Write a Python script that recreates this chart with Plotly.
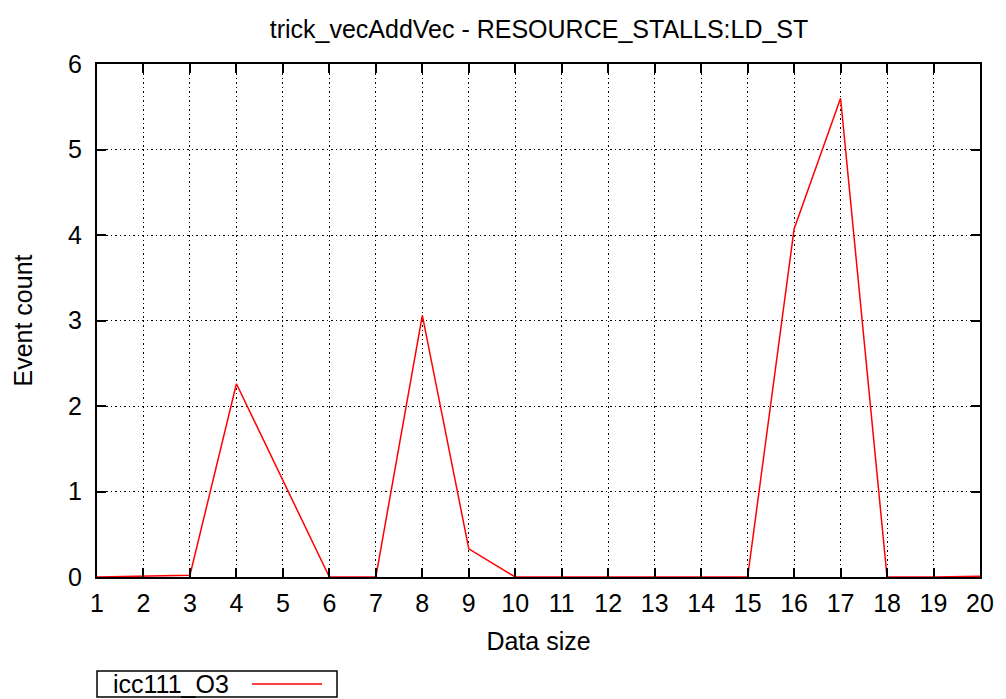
import plotly.graph_objects as go

data_size = list(range(1, 21))
event_count = [0.0, 0.01, 0.02, 2.26, 1.12, 0.0, 0.0, 3.06, 0.33, 0.0,
               0.0, 0.0, 0.0, 0.0, 0.0, 4.07, 5.6, 0.0, 0.0, 0.01]
series_name = "icc111_O3"
title_text = "trick_vecAddVec - RESOURCE_STALLS:LD_ST"

FONT = "Liberation Sans, Arial, Helvetica, sans-serif"
FS = 25

# the page body has an 8px margin; work in window pixels and shift
OFF = 8
WIN_W, WIN_H = 1006, 699
W, H = WIN_W - OFF, WIN_H - OFF
L, R, T, B = 97 - OFF, 980 - OFF, 64 - OFF, 577 - OFF


def px(x):
    return (x - OFF - L) / (R - L)


def py(y):
    return (B - (y - OFF)) / (B - T)


fig = go.Figure()
fig.add_trace(go.Scatter(x=data_size, y=event_count, mode="lines",
                         line=dict(color="#ff0000", width=1.5),
                         name=series_name, showlegend=False))

axis_common = dict(
    showline=True, linecolor="black", linewidth=2, mirror="ticks",
    ticks="inside", ticklen=9, tickwidth=2, tickcolor="black",
    showgrid=True, gridcolor="black", gridwidth=1, griddash="1.5px,3px",
    zeroline=False, tickfont=dict(family=FONT, size=FS, color="black"),
)

fig.update_xaxes(range=[1, 20], dtick=1, tick0=1, ticklabelstandoff=3,
                 title=dict(text="Data size", font=dict(family=FONT, size=FS, color="black"), standoff=16),
                 **axis_common)
fig.update_yaxes(range=[0, 6], dtick=1, ticklabelstandoff=8,
                 title=dict(text="Event count", font=dict(family=FONT, size=FS, color="black"), standoff=28),
                 **axis_common)

fig.add_shape(type="rect", xref="paper", yref="paper",
              x0=px(97), x1=px(337), y0=py(697), y1=py(671),
              line=dict(color="black", width=1.5), fillcolor="white")
fig.add_shape(type="line", xref="paper", yref="paper",
              x0=px(252), x1=px(322), y0=py(684), y1=py(684),
              line=dict(color="#ff0000", width=1.5))
fig.add_annotation(xref="paper", yref="paper", x=px(111), y=py(684),
                   text=series_name, showarrow=False, xanchor="left", yanchor="middle",
                   font=dict(family=FONT, size=FS, color="black"))

fig.update_layout(
    width=W, height=H,
    margin=dict(l=L, r=W - R, t=T, b=H - B),
    paper_bgcolor="white", plot_bgcolor="white",
    title=dict(text=title_text, x=px(539), xref="paper", xanchor="center",
               y=1 - (29 - OFF) / H, yanchor="middle",
               font=dict(family=FONT, size=FS, color="black")),
    showlegend=False,
)

fig.write_html("out.html")
